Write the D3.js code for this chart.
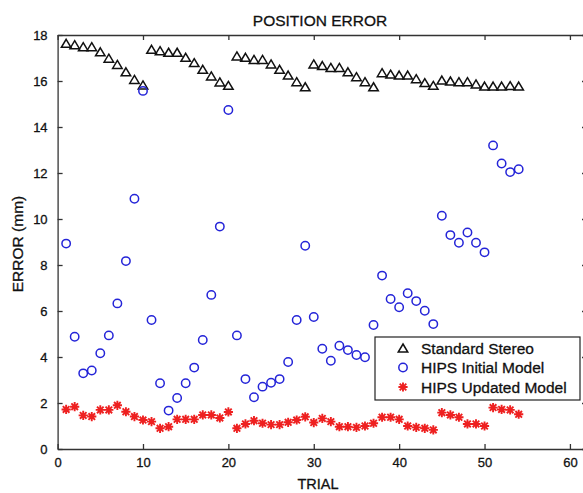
<!DOCTYPE html>
<html>
<head>
<meta charset="utf-8">
<script src="https://cdn.jsdelivr.net/npm/d3@7"></script>
<style>
  html, body { margin: 0; padding: 0; background: #fff; }
  svg { display: block; font-family: "Liberation Sans", Arial, sans-serif; }
  text { fill: #111; stroke: #111; stroke-width: 0.3; }
  .tick text { font-size: 13px; }
  .tick line, .domain { stroke: #333; stroke-width: 1.3; }
</style>
</head>
<body>
<div id="chart"></div>
<script>
// Position error per trial, three methods
const trials = [1,2,3,4,5,6,7,8,9,10,11,12,13,14,15,16,17,18,19,20,21,22,23,24,25,26,27,
  28,29,30,31,32,33,34,35,36,37,38,39,40,41,42,43,44,45,46,47,48,49,50,51,52,53,54];

const standardStereo = [
  17.64, 17.58, 17.49, 17.49, 17.27, 16.99, 16.72, 16.40, 16.07, 15.83,
  17.38, 17.32, 17.25, 17.25, 17.03, 16.80, 16.51, 16.22, 15.96, 15.81,
  17.09, 17.03, 16.94, 16.94, 16.74, 16.51, 16.26, 15.97, 15.75,
  16.74, 16.67, 16.59, 16.59, 16.40, 16.19, 15.97, 15.75,
  16.36, 16.30, 16.26, 16.26, 16.10, 15.93, 15.81, 16.04, 16.00, 15.97, 15.97,
  15.87, 15.78, 15.78, 15.78, 15.80, 15.78];

const hipsInitial = [
  8.93, 4.88, 3.29, 3.41, 4.16, 4.94, 6.33, 8.17, 10.88, 15.57,
  5.61, 2.86, 1.67, 2.22, 2.86, 3.54, 4.74, 6.70, 9.67, 14.74,
  4.94, 3.04, 2.25, 2.71, 2.88, 3.04, 3.78, 5.61, 8.84, 5.74,
  4.36, 3.84, 4.49, 4.30, 4.09, 3.99, 5.39, 7.54, 6.52, 6.16,
  6.77, 6.43, 6.01, 5.43, 10.14, 9.30, 8.97, 9.41, 8.97, 8.55,
  13.20, 12.41, 12.04, 12.16];

const hipsUpdated = [
  1.72, 1.84, 1.46, 1.41, 1.70, 1.70, 1.90, 1.62, 1.41, 1.26,
  1.19, 0.90, 0.97, 1.29, 1.29, 1.29, 1.48, 1.48, 1.35, 1.61,
  0.90, 1.09, 1.23, 1.12, 1.06, 1.06, 1.16, 1.26, 1.40, 1.15,
  1.33, 1.19, 0.97, 0.97, 0.94, 1.00, 1.12, 1.38, 1.38, 1.29,
  1.00, 0.94, 0.90, 0.83, 1.58, 1.48, 1.38, 1.09, 1.09, 1.00,
  1.80, 1.72, 1.70, 1.51];

const xTicks = [0, 10, 20, 30, 40, 50, 60];
const yTicks = [0, 2, 4, 6, 8, 10, 12, 14, 16, 18];
const legendLabels = ['Standard Stereo', 'HIPS Initial Model', 'HIPS Updated Model'];

const W = 583, H = 493;
const BLUE = '#2424d8', RED = '#ee2020';

const svg = d3.select('#chart').append('svg').attr('width', W).attr('height', H);

const x = d3.scaleLinear().domain([0, 62]).range([57.6, 587]);
const y = d3.scaleLinear().domain([0, 18]).range([449, 35]);

// Markers: triangle (bbox-centred), star = plus + cross
const triPath = (w, h) => `M0,${-h / 2}L${w / 2},${h / 2}L${-w / 2},${h / 2}Z`;
function starPath(r) {
  const d = r * 0.72;
  return `M${-r},0L${r},0M0,${-r}L0,${r}M${-d},${-d}L${d},${d}M${-d},${d}L${d},${-d}`;
}

// Axes, MATLAB-style ticks pointing inward on all four sides
svg.append('g').attr('transform', `translate(0,${y(0)})`)
  .call(d3.axisBottom(x).tickValues(xTicks).tickSizeInner(-5).tickSizeOuter(0).tickPadding(9));
svg.append('g').attr('transform', `translate(0,${y(18)})`)
  .call(d3.axisTop(x).tickValues(xTicks).tickSizeInner(-5).tickSizeOuter(0).tickFormat(''));
svg.append('g').attr('transform', `translate(${x(0)},0)`)
  .call(d3.axisLeft(y).tickValues(yTicks).tickSizeInner(-5).tickSizeOuter(0).tickPadding(10));
svg.append('g').attr('transform', `translate(${x(62)},0)`)
  .call(d3.axisRight(y).tickValues(yTicks).tickSizeInner(-5).tickSizeOuter(0).tickFormat(''));

// Titles
svg.append('text').attr('x', 320).attr('y', 26).attr('text-anchor', 'middle')
  .style('font-size', '15.5px').text('POSITION ERROR');
svg.append('text').attr('x', 318).attr('y', 489).attr('text-anchor', 'middle')
  .style('font-size', '14.5px').text('TRIAL');
svg.append('text').attr('transform', `translate(23,244) rotate(-90)`)
  .attr('text-anchor', 'middle').style('font-size', '15.5px').text('ERROR (mm)');

// Series
const plot = svg.append('g');
plot.selectAll('.tri').data(standardStereo).join('path')
  .attr('transform', (d, i) => `translate(${x(trials[i])},${y(d)})`)
  .attr('d', triPath(9.5, 8))
  .attr('fill', 'none').attr('stroke', '#111').attr('stroke-width', 1.5);

plot.selectAll('.circ').data(hipsInitial).join('circle')
  .attr('cx', (d, i) => x(trials[i])).attr('cy', d => y(d)).attr('r', 4.2)
  .attr('fill', 'none').attr('stroke', BLUE).attr('stroke-width', 1.5);

plot.selectAll('.star').data(hipsUpdated).join('path')
  .attr('transform', (d, i) => `translate(${x(trials[i])},${y(d)})`)
  .attr('d', starPath(4.6))
  .attr('fill', 'none').attr('stroke', RED).attr('stroke-width', 1.9);

// Legend
const lg = svg.append('g');
lg.append('rect').attr('x', 375).attr('y', 337).attr('width', 205).attr('height', 63)
  .attr('fill', '#fff').attr('stroke', '#222').attr('stroke-width', 1.2);
const rowY = [348, 367.5, 387];
lg.append('path').attr('transform', `translate(403,${rowY[0]})`).attr('d', triPath(9.5, 8))
  .attr('fill', 'none').attr('stroke', '#111').attr('stroke-width', 1.5);
lg.append('circle').attr('cx', 403).attr('cy', rowY[1]).attr('r', 4.2)
  .attr('fill', 'none').attr('stroke', BLUE).attr('stroke-width', 1.5);
lg.append('path').attr('transform', `translate(403,${rowY[2]})`).attr('d', starPath(4.6))
  .attr('fill', 'none').attr('stroke', RED).attr('stroke-width', 1.9);
legendLabels.forEach((t, i) => {
  lg.append('text').attr('x', 421).attr('y', rowY[i]).attr('dy', '0.36em')
    .style('font-size', '15.5px').text(t);
});
</script>
</body>
</html>
